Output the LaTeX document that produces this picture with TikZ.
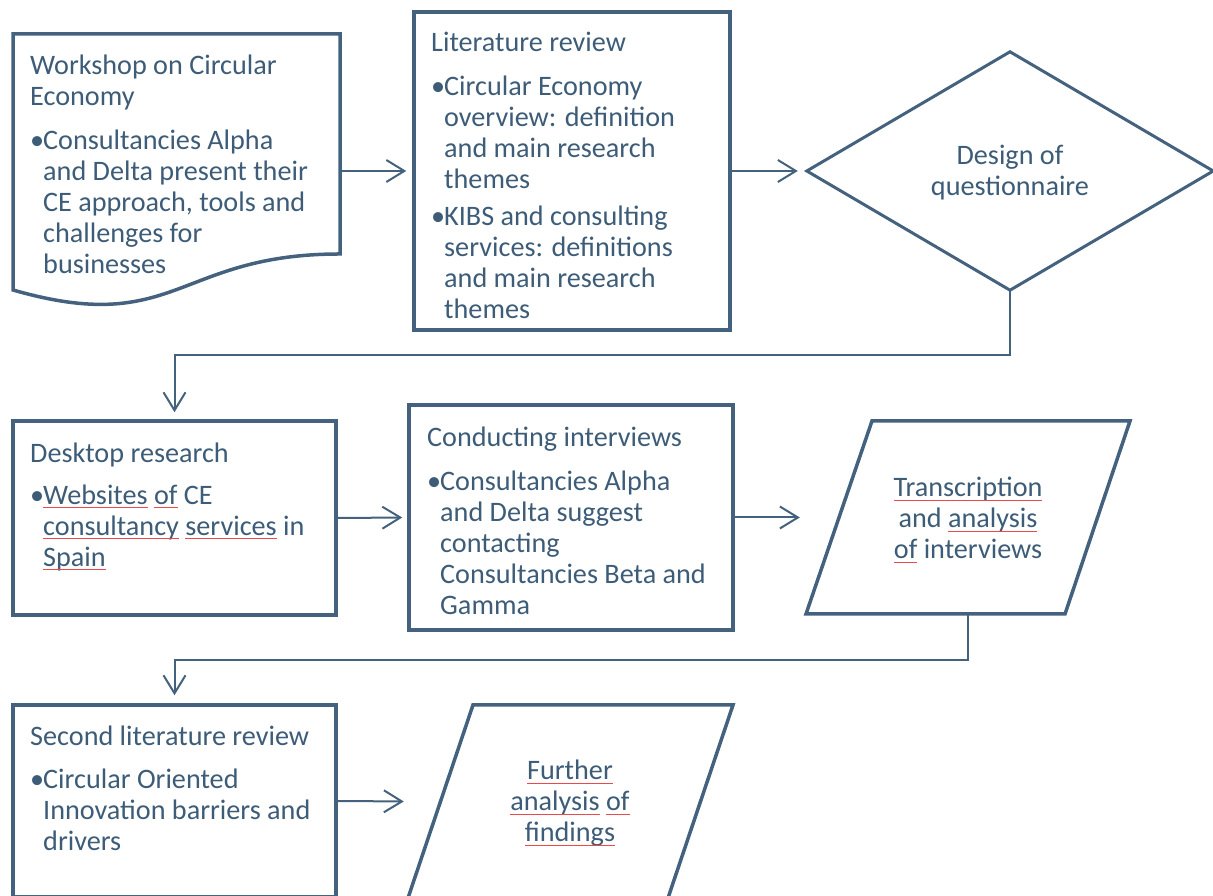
\documentclass[tikz,border=0pt]{standalone}
\usepackage{fontspec}
\setmainfont{Carlito}
\usetikzlibrary{arrows.meta,calc}
\definecolor{ink}{HTML}{44627E}
\definecolor{inktext}{HTML}{3D5C78}
\definecolor{sqred}{HTML}{EC4A4A}
\newsavebox\sqbox
\newcommand\sq[1]{\sbox\sqbox{#1}\usebox\sqbox\llap{\textcolor{sqred}{\rule[-4pt]{\wd\sqbox}{1.2pt}}}}
\newcommand\bul{\makebox[13pt][l]{•}}
\newcommand\ind{\hspace*{13pt}}
\begin{document}
\begin{tikzpicture}[x=1pt,y=1pt,
  frame/.style={draw=ink, line width=3.5pt, inner sep=0pt},
  ghost/.style={inner sep=0pt},
  outline/.style={draw=ink, line width=3.5pt, line join=miter},
  conn/.style={draw=ink, line width=2pt, -{Straight Barb[length=18pt,width=22pt]}},
  bodytext/.style={inner sep=0pt, text=inktext, font=\fontsize{28.2}{31}\selectfont, align=left, anchor=base west},
  centertext/.style={bodytext, align=center, anchor=base},
]
\useasboundingbox (0,0) rectangle (1213,896);
% ---- shapes
\node[ghost, minimum width=327pt, minimum height=256pt] (ws) at (176.5,734) {};
\draw[outline] (13,862) -- (340,862) -- (340,642) .. controls (176.5,642) and (176.5,559) .. (13,606) -- cycle;
\node[frame, minimum width=316pt, minimum height=318pt] (lit) at (572,725) {};
\node[ghost, minimum width=406pt, minimum height=238pt] (dia) at (1010,725) {};
\draw[outline, line width=3pt] (dia.west) -- (dia.north) -- (dia.east) -- (dia.south) -- cycle;
\node[frame, minimum width=323pt, minimum height=194pt] (desk) at (174.5,378) {};
\node[frame, minimum width=324pt, minimum height=225pt] (conv) at (571,378.5) {};
\node[ghost, minimum width=324pt, minimum height=193pt] (trans) at (968,378.5) {};
\draw[outline] (872,475) -- (1130,475) -- (1065,282) -- (806,282) -- cycle;
\node[frame, minimum width=323pt, minimum height=192pt] (slit) at (174.5,95) {};
\node[ghost, minimum width=325pt, minimum height=193pt] (fur) at (570.5,94.5) {};
\draw[outline] (473,191) -- (733,191) -- (668,-2) -- (408,-2) -- cycle;
% ---- texts (anchored at the baseline of their last line)
\node[bodytext] (wsT) at (30,622) {Workshop on Circular\\Economy\\[13pt]\bul Consultancies Alpha\\\ind and Delta present their\\\ind CE approach, tools and\\\ind challenges for\\\ind businesses};
\node[bodytext] (litT) at (431,577) {Literature review\\[13pt]\bul Circular Economy\\\ind overview: definition\\\ind and main research\\\ind themes\\[6pt]\bul KIBS and consulting\\\ind services: definitions\\\ind and main research\\\ind themes};
\node[centertext] (diaT) at (1010,700.5) {Design of\\questionnaire};
\node[bodytext] (deskT) at (30,329.5) {Desktop research\\[11pt]\bul\sq{Websites} \sq{of} CE\\\ind\sq{consultancy} \sq{services} in\\\ind\sq{Spain}};
\node[bodytext] (convT) at (427,281.5) {Conducting interviews\\[13pt]\bul Consultancies Alpha\\\ind and Delta suggest\\\ind contacting\\\ind Consultancies Beta and\\\ind Gamma};
\node[centertext] (transT) at (968,337) {\sq{Transcription}\\and \sq{analysis}\\\sq{of} interviews};
\node[bodytext] (slitT) at (30,45) {Second literature review\\[12pt]\bul Circular Oriented\\\ind Innovation barriers and\\\ind drivers};
\node[centertext] (furT) at (570,54) {\sq{Further}\\\sq{analysis} \sq{of}\\\sq{findings}};
% ---- connectors
\draw[conn, shorten >=6pt] (ws.east |- lit.west) -- (lit.west);
\draw[conn, shorten >=9pt] (lit.east) -- (dia.west);
\draw[conn, shorten >=7pt] (dia.south) -- ++(0,-65) -| (desk.north);
\draw[conn, shorten >=5pt] (desk.east) -- (conv.west);
\draw[conn, shorten >=6pt] (conv.east) -- (trans.west);
\draw[conn, shorten >=8pt] (trans.south) -- ++(0,-46) -| (slit.north);
\draw[conn, shorten >=4pt] (slit.east) -- (fur.west);
\end{tikzpicture}
\end{document}
